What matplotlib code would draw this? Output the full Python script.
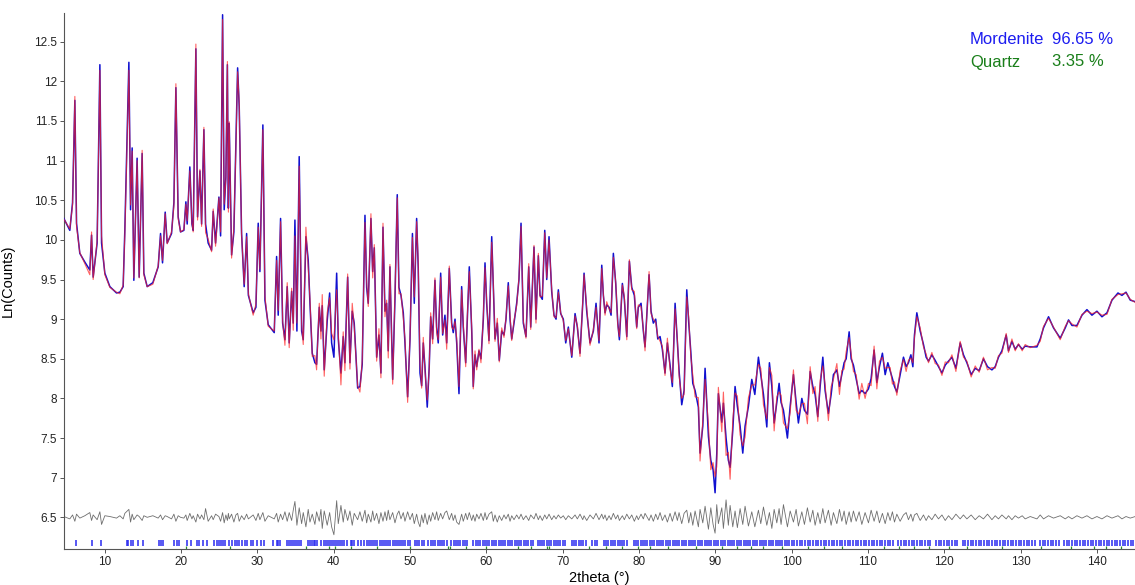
import numpy as np
import matplotlib
matplotlib.use("Agg")
from matplotlib import pyplot as plt

two_theta = [
    4.63, 5.41, 5.77, 6.07, 6.29, 6.72, 7.38, 8.03, 8.26, 8.47,
    8.99, 9.35, 9.57, 10.00, 10.66, 11.53, 11.97, 12.40, 12.62, 13.15,
    13.37, 13.58, 13.80, 14.23, 14.50, 14.89, 15.11, 15.55, 16.29, 16.99,
    17.30, 17.56, 17.91, 18.17, 18.74, 19.05, 19.31, 19.61, 19.92, 20.36,
    20.62, 20.79, 21.14, 21.41, 21.58, 21.93, 22.15, 22.46, 22.68, 22.98,
    23.20, 23.54, 23.99, 24.20, 24.51, 24.95, 25.17, 25.43, 25.64, 25.86,
    26.06, 26.19, 26.30, 26.61, 26.91, 27.17, 27.40, 27.61, 27.92, 28.26,
    28.58, 28.81, 29.44, 29.80, 30.10, 30.32, 30.71, 30.98, 31.41, 32.20,
    32.51, 32.72, 33.03, 33.30, 33.60, 33.90, 34.16, 34.48, 34.69, 34.91,
    35.17, 35.47, 35.79, 36.00, 36.35, 36.65, 36.88, 37.18, 37.53, 37.75,
    38.10, 38.32, 38.49, 38.75, 39.14, 39.46, 39.72, 40.02, 40.38, 40.59,
    40.94, 41.24, 41.46, 41.82, 42.12, 42.42, 42.68, 43.13, 43.43, 43.73,
    44.09, 44.31, 44.52, 44.87, 45.10, 45.31, 45.62, 45.92, 46.18, 46.45,
    46.71, 46.93, 47.14, 47.36, 47.72, 48.02, 48.32, 48.54, 48.81, 49.11,
    49.33, 49.68, 49.99, 50.31, 50.55, 50.86, 51.07, 51.30, 51.52, 51.73,
    51.95, 52.25, 52.51, 52.70, 52.96, 53.26, 53.48, 53.69, 54.01, 54.27,
    54.57, 54.80, 55.14, 55.45, 55.66, 55.89, 56.11, 56.41, 56.76, 56.97,
    57.29, 57.50, 57.76, 58.08, 58.28, 58.51, 58.73, 59.03, 59.29, 59.60,
    59.82, 60.04, 60.34, 60.70, 60.91, 61.13, 61.43, 61.69, 62.01, 62.31,
    62.57, 62.87, 63.10, 63.32, 63.62, 63.97, 64.27, 64.54, 64.84, 65.19,
    65.55, 65.81, 66.24, 66.50, 66.81, 67.03, 67.33, 67.65, 67.91, 68.21,
    68.56, 68.86, 69.13, 69.43, 69.74, 70.08, 70.40, 70.74, 71.19, 71.62,
    71.92, 72.27, 72.63, 72.80, 73.15, 73.58, 74.02, 74.37, 74.76, 75.12,
    75.33, 75.55, 75.77, 76.08, 76.34, 76.64, 76.95, 77.22, 77.43, 77.82,
    78.08, 78.40, 78.74, 79.05, 79.39, 79.70, 79.91, 80.27, 80.57, 80.79,
    81.32, 81.58, 81.88, 82.19, 82.46, 82.76, 83.06, 83.41, 83.72, 84.07,
    84.37, 84.73, 85.03, 85.25, 85.60, 85.91, 86.26, 86.52, 86.78, 87.05,
    87.35, 87.78, 88.00, 88.36, 88.66, 89.10, 89.41, 89.71, 89.97, 90.19,
    90.40, 90.85, 91.06, 91.41, 91.71, 91.94, 92.29, 92.59, 92.89, 93.25,
    93.60, 93.90, 94.34, 94.78, 95.18, 95.65, 95.96, 96.31, 96.75, 97.09,
    97.41, 97.71, 98.06, 98.36, 98.62, 98.93, 99.45, 99.81, 100.24, 100.59,
    100.89, 101.34, 101.68, 102.07, 102.43, 102.78, 103.08, 103.43, 103.74, 104.09,
    104.39, 104.82, 105.18, 105.48, 105.93, 106.27, 106.58, 106.88, 107.15, 107.54,
    107.80, 108.10, 108.46, 108.85, 109.20, 109.63, 110.07, 110.42, 110.81, 111.17,
    111.51, 111.90, 112.26, 112.61, 112.91, 113.21, 113.48, 113.79, 114.22, 114.66,
    115.01, 115.31, 115.63, 115.89, 116.10, 116.41, 116.85, 117.28, 117.63, 117.94,
    118.38, 118.81, 119.25, 119.70, 120.13, 120.56, 121.01, 121.53, 122.09, 122.52,
    122.97, 123.53, 124.06, 124.58, 125.14, 125.67, 126.25, 126.68, 127.11, 127.56,
    128.12, 128.42, 128.87, 129.30, 129.73, 130.22, 130.61, 131.27, 132.15, 132.58,
    133.01, 133.67, 134.32, 135.20, 135.86, 136.29, 136.74, 137.39, 138.05, 138.70,
    139.36, 140.01, 140.67, 141.33, 141.98, 142.77, 143.29, 143.82, 144.38, 145.03,
]

ln_obs = [
    10.27, 10.12, 10.47, 11.76, 10.21, 9.83, 9.72, 9.62, 10.06, 9.53,
    9.96, 12.21, 9.96, 9.58, 9.41, 9.33, 9.34, 9.41, 10.12, 12.24,
    10.38, 11.16, 9.49, 11.03, 9.53, 11.09, 9.58, 9.41, 9.46, 9.66,
    10.08, 9.71, 10.35, 9.96, 10.08, 10.47, 11.92, 10.29, 10.10, 10.12,
    10.48, 10.20, 10.92, 10.20, 10.12, 12.41, 10.29, 10.87, 10.20, 11.39,
    10.20, 9.96, 9.87, 10.36, 9.96, 10.54, 10.05, 12.84, 10.38, 10.79,
    12.21, 10.40, 11.47, 9.81, 10.10, 11.17, 12.17, 11.68, 10.08, 9.41,
    10.08, 9.30, 9.08, 9.15, 10.21, 9.60, 11.45, 9.24, 8.93, 8.83,
    9.79, 9.05, 10.27, 8.95, 8.74, 9.41, 8.70, 9.35, 8.95, 10.25,
    8.85, 11.05, 8.85, 8.74, 10.04, 9.75, 9.20, 8.57, 8.45, 8.43,
    9.15, 8.85, 9.17, 8.36, 8.98, 9.33, 8.70, 8.52, 9.58, 8.75,
    8.32, 8.78, 8.45, 9.53, 8.45, 9.10, 8.95, 8.13, 8.15, 8.43,
    10.31, 9.40, 9.20, 10.27, 9.60, 9.90, 8.52, 8.80, 8.32, 10.16,
    9.10, 9.20, 8.60, 9.66, 8.24, 9.25, 10.57, 9.40, 9.30, 9.08,
    8.70, 8.02, 8.74, 10.08, 9.20, 10.27, 9.65, 8.32, 8.16, 8.70,
    8.40, 7.89, 8.40, 9.03, 8.75, 9.49, 8.90, 8.70, 9.58, 8.80,
    9.05, 8.70, 9.64, 8.95, 8.83, 9.00, 8.70, 8.06, 9.41, 8.90,
    8.45, 9.00, 9.66, 8.85, 8.15, 8.55, 8.40, 8.60, 8.50, 9.00,
    9.71, 9.20, 8.73, 10.04, 9.40, 8.75, 8.95, 8.48, 8.85, 8.80,
    9.00, 9.46, 9.00, 8.75, 8.95, 9.20, 9.50, 10.21, 8.95, 8.78,
    9.66, 8.90, 9.91, 9.00, 9.80, 9.30, 9.25, 10.12, 9.50, 10.04,
    9.35, 9.05, 9.00, 9.37, 9.07, 9.00, 8.70, 8.90, 8.52, 9.07,
    8.90, 8.57, 9.20, 9.58, 9.10, 8.70, 8.85, 9.20, 8.70, 9.68,
    9.30, 9.08, 9.18, 9.15, 9.05, 9.83, 9.45, 8.95, 8.74, 9.45,
    9.25, 8.78, 9.73, 9.40, 9.30, 8.90, 9.15, 9.20, 8.85, 8.65,
    9.56, 9.10, 8.95, 9.00, 8.75, 8.78, 8.62, 8.32, 8.70, 8.42,
    8.15, 9.20, 8.70, 8.35, 7.92, 8.10, 9.37, 8.95, 8.60, 8.19,
    8.10, 7.89, 7.31, 7.65, 8.38, 7.52, 7.22, 7.10, 6.81, 7.30,
    8.06, 7.70, 7.94, 7.50, 7.22, 7.13, 7.60, 8.15, 7.90, 7.65,
    7.31, 7.65, 7.90, 8.24, 8.05, 8.52, 8.30, 8.05, 7.64, 8.45,
    8.15, 7.69, 7.95, 8.19, 7.95, 7.85, 7.50, 7.90, 8.30, 7.95,
    7.69, 8.00, 7.85, 7.80, 8.34, 8.15, 8.05, 7.77, 8.15, 8.52,
    8.10, 7.81, 8.05, 8.30, 8.36, 8.15, 8.30, 8.45, 8.50, 8.84,
    8.50, 8.42, 8.25, 8.06, 8.10, 8.06, 8.12, 8.25, 8.61, 8.20,
    8.40, 8.57, 8.30, 8.45, 8.35, 8.25, 8.15, 8.08, 8.30, 8.52,
    8.40, 8.45, 8.55, 8.40, 8.80, 9.08, 8.85, 8.68, 8.52, 8.47,
    8.55, 8.48, 8.40, 8.32, 8.42, 8.47, 8.52, 8.38, 8.70, 8.55,
    8.45, 8.30, 8.38, 8.35, 8.50, 8.40, 8.36, 8.40, 8.52, 8.60,
    8.80, 8.60, 8.72, 8.62, 8.68, 8.62, 8.66, 8.65, 8.65, 8.75,
    8.89, 9.03, 8.89, 8.76, 8.89, 8.99, 8.92, 8.92, 9.05, 9.12,
    9.05, 9.10, 9.03, 9.08, 9.24, 9.33, 9.30, 9.34, 9.24, 9.22,
]

resid = [
    0.01, -0.02, 0.03, -0.05, 0.04, -0.01, 0.02, 0.06, -0.04, 0.03,
    -0.03, 0.07, -0.09, 0.02, 0.01, -0.01, 0.02, -0.02, 0.05, 0.10,
    -0.06, 0.04, -0.03, 0.03, 0.01, -0.04, 0.02, 0.00, 0.02, -0.01,
    0.03, -0.03, 0.02, 0.01, -0.02, 0.04, -0.05, 0.02, 0.00, -0.01,
    0.03, -0.04, 0.05, -0.02, 0.02, -0.06, 0.04, -0.02, 0.03, -0.03,
    0.11, -0.05, 0.02, -0.03, 0.04, 0.01, -0.05, 0.06, -0.07, 0.03,
    -0.04, 0.05, -0.02, 0.04, -0.06, 0.03, 0.05, -0.05, 0.02, -0.03,
    0.04, -0.02, 0.03, -0.04, 0.05, -0.03, 0.06, -0.05, 0.02, -0.02,
    0.05, -0.06, 0.04, -0.03, 0.07, -0.05, 0.06, -0.04, 0.09, 0.20,
    -0.10, 0.12, -0.08, 0.06, -0.12, 0.10, -0.06, 0.04, -0.09, 0.07,
    -0.05, 0.10, -0.14, 0.08, -0.10, 0.06, -0.12, -0.22, 0.21, -0.08,
    0.15, -0.06, 0.10, -0.04, 0.08, -0.10, 0.05, -0.03, 0.07, -0.05,
    0.09, -0.07, 0.04, -0.06, 0.08, -0.04, 0.05, -0.08, 0.06, -0.05,
    0.07, -0.04, 0.09, -0.03, 0.06, -0.07, 0.04, 0.08, -0.02, 0.06,
    -0.05, 0.07, -0.03, 0.05, -0.08, 0.04, -0.06, -0.12, 0.03, -0.07,
    0.05, -0.09, 0.03, -0.05, 0.06, -0.03, 0.07, -0.04, 0.05, -0.02,
    0.06, 0.08, -0.03, 0.05, -0.04, 0.03, -0.06, -0.09, 0.04, -0.05,
    0.05, -0.03, 0.06, -0.04, 0.03, -0.05, 0.04, -0.02, 0.05, -0.04,
    0.06, -0.03, 0.04, 0.07, -0.05, 0.03, -0.06, 0.02, -0.04, 0.03,
    -0.02, 0.04, -0.05, 0.02, -0.03, 0.03, -0.02, 0.04, -0.03, 0.02,
    -0.04, 0.03, -0.02, 0.05, -0.03, 0.02, -0.04, 0.03, -0.02, 0.04,
    -0.03, 0.02, -0.02, 0.03, -0.01, 0.02, -0.03, 0.02, -0.02, 0.03,
    -0.02, 0.04, -0.03, 0.02, -0.04, 0.03, -0.02, 0.05, -0.03, 0.04,
    -0.02, 0.03, -0.04, 0.02, -0.03, 0.05, -0.02, 0.03, -0.04, 0.02,
    -0.03, 0.04, -0.02, 0.03, -0.05, 0.02, -0.03, 0.04, -0.02, 0.05,
    -0.04, 0.03, -0.05, 0.04, -0.03, 0.06, -0.04, 0.03, -0.06, 0.05,
    -0.05, 0.07, -0.04, 0.06, -0.08, 0.05, 0.09, -0.07, 0.06, -0.10,
    0.08, -0.12, 0.10, -0.07, 0.14, -0.15, 0.12, -0.09, -0.20, 0.16,
    -0.08, 0.12, -0.14, 0.22, -0.10, 0.15, -0.12, 0.08, -0.13, 0.11,
    -0.09, 0.14, -0.11, 0.07, -0.12, 0.09, -0.08, 0.13, -0.10, 0.06,
    -0.14, 0.10, -0.07, 0.11, -0.09, 0.16, -0.12, 0.08, -0.06, 0.10,
    -0.11, 0.07, -0.09, 0.12, -0.06, 0.09, -0.10, 0.06, -0.08, 0.11,
    -0.07, 0.09, -0.10, 0.06, -0.08, 0.10, -0.05, 0.08, -0.09, 0.07,
    -0.06, 0.08, -0.05, 0.07, -0.09, 0.06, -0.07, 0.09, -0.05, 0.08,
    -0.07, 0.05, -0.08, 0.06, -0.04, 0.07, -0.06, 0.04, -0.05, 0.03,
    0.06, -0.03, 0.04, -0.05, 0.03, 0.05, -0.04, 0.03, -0.04, 0.02,
    -0.03, 0.04, -0.02, 0.03, -0.04, 0.02, -0.03, 0.04, -0.02, 0.03,
    -0.02, 0.03, -0.03, 0.02, -0.02, 0.04, -0.03, 0.02, -0.02, 0.03,
    -0.02, 0.02, -0.03, 0.02, -0.01, 0.02, -0.02, 0.01, -0.02, 0.03,
    -0.02, 0.02, -0.01, 0.02, -0.02, 0.01, -0.02, 0.02, -0.01, 0.02,
    -0.02, 0.01, -0.02, 0.02, -0.01, 0.02, -0.02, 0.01, -0.01, 0.01,
]

# reflection positions (tick rows under the pattern)
mordenite_pos = [
    6.20, 8.34, 9.44, 12.84, 13.10, 13.37, 13.63, 14.37, 15.02, 17.12,
    17.38, 17.65, 19.09, 19.40, 19.66, 20.79, 21.23, 22.02, 22.36, 22.89,
    23.41, 24.33, 24.64, 24.90, 25.17, 25.43, 25.73, 26.30, 26.69, 27.04,
    27.35, 27.61, 27.92, 28.35, 28.66, 29.10, 29.44, 29.89, 30.41, 30.84,
    31.98, 32.51, 32.72, 32.94, 33.82, 34.10, 34.40, 34.70, 34.95, 35.20,
    35.45, 35.70, 36.60, 36.85, 37.10, 37.35, 37.60, 37.85, 38.30, 38.70,
    39.00, 39.30, 39.55, 39.80, 40.05, 40.30, 40.55, 40.80, 41.05, 41.30,
    41.75, 42.20, 42.45, 42.70, 43.20, 43.60, 44.00, 44.30, 44.60, 44.85,
    45.10, 45.40, 45.70, 46.00, 46.30, 46.60, 46.85, 47.10, 47.40, 47.70,
    48.00, 48.30, 48.55, 48.80, 49.10, 49.40, 49.70, 50.00, 50.60, 50.90,
    51.20, 51.50, 51.80, 52.40, 52.70, 53.00, 53.30, 53.60, 53.90, 54.20,
    54.50, 54.80, 55.40, 55.70, 56.00, 56.30, 56.60, 56.90, 57.20, 57.50,
    58.30, 58.60, 58.90, 59.20, 59.50, 59.80, 60.10, 60.40, 60.70, 61.00,
    61.30, 61.60, 61.90, 62.20, 62.50, 62.80, 63.10, 63.40, 63.70, 64.00,
    64.30, 64.60, 64.90, 65.20, 65.50, 65.80, 66.10, 66.70, 67.00, 67.30,
    67.60, 67.90, 68.20, 68.50, 68.80, 69.10, 69.40, 69.70, 70.00, 70.30,
    71.20, 71.50, 71.80, 72.10, 72.40, 72.70, 73.00, 73.90, 74.20, 74.50,
    75.40, 75.70, 76.00, 76.30, 76.60, 76.90, 77.20, 77.50, 77.80, 78.10,
    78.40, 79.30, 79.60, 79.90, 80.20, 80.50, 80.80, 81.10, 81.40, 81.70,
    82.00, 82.30, 82.60, 82.90, 83.20, 83.50, 83.80, 84.10, 84.40, 84.70,
    85.00, 85.30, 85.60, 85.90, 86.20, 86.50, 86.80, 87.10, 87.40, 87.70,
    88.00, 88.30, 88.60, 88.90, 89.20, 89.50, 89.80, 90.10, 90.40, 90.70,
    91.00, 91.30, 91.60, 91.90, 92.20, 92.50, 92.80, 93.10, 93.40, 93.70,
    94.00, 94.30, 94.60, 94.90, 95.20, 95.50, 95.80, 96.10, 96.40, 96.70,
    97.00, 97.30, 97.60, 97.90, 98.20, 98.50, 98.80, 99.10, 99.40, 99.70,
    100.00, 100.35, 100.70, 101.05, 101.40, 101.75, 102.10, 102.45, 102.80, 103.15,
    103.50, 103.85, 104.20, 104.55, 104.90, 105.25, 105.60, 105.95, 106.30, 106.65,
    107.00, 107.35, 107.70, 108.05, 108.40, 108.75, 109.10, 109.45, 109.80, 110.15,
    110.50, 110.85, 111.20, 111.55, 111.90, 112.25, 112.60, 112.95, 113.30, 114.00,
    114.35, 114.70, 115.05, 115.40, 115.75, 116.10, 116.45, 116.80, 117.15, 117.50,
    117.85, 118.20, 118.90, 119.25, 119.60, 119.95, 120.30, 120.65, 121.00, 121.35,
    121.70, 122.40, 122.75, 123.10, 123.45, 123.80, 124.15, 124.50, 124.85, 125.20,
    125.55, 125.90, 126.25, 126.60, 126.95, 127.30, 127.65, 128.00, 128.35, 128.70,
    129.05, 129.40, 129.75, 130.10, 130.45, 130.80, 131.15, 131.50, 131.85, 132.55,
    132.90, 133.25, 133.60, 133.95, 134.30, 134.65, 135.00, 135.70, 136.05, 136.40,
    136.75, 137.10, 137.45, 137.80, 138.15, 138.50, 138.85, 139.20, 139.55, 139.90,
    140.25, 140.60, 140.95, 141.30, 141.65, 142.00, 142.35, 142.70, 143.05, 143.40,
    143.75, 144.10, 144.45, 144.80,
]

quartz_pos = [
    20.70, 26.39, 36.35, 39.40, 40.20, 42.25, 45.70, 49.99, 54.97, 55.20,
    57.33, 59.95, 64.10, 65.79, 67.90, 68.20, 73.49, 75.68, 77.73, 79.88,
    81.49, 83.84, 87.43, 90.83, 92.80, 94.64, 96.23, 98.72, 102.20, 104.20,
    106.60, 112.10, 114.10, 116.00, 118.00, 120.60, 123.00, 127.60, 132.70, 136.60,
    139.60, 141.20, 143.20,
]

phase_names = ["Mordenite", "Quartz"]
phase_wt = ["96.65 %", "3.35 %"]
phase_colors = ["#1c1cf0", "#1a7f1a"]

ln_calc = np.array(ln_obs) - np.array(resid)
diff_line = 6.5 + np.array(resid)

fig = plt.figure(figsize=(11.35, 5.85), dpi=100)
ax = fig.add_axes([0.0564, 0.0615, 0.9436, 0.916])

ax.plot(two_theta, ln_obs, color="#1010d0", lw=1.1, zorder=3)
ax.plot(two_theta, ln_calc, color="#ff2020", lw=0.8, alpha=0.7, zorder=4)
ax.plot(two_theta, diff_line, color="#6e6e6e", lw=0.6, zorder=2)

ax.vlines(mordenite_pos, 6.135, 6.22, color="#2a2af0", lw=1.1)
ax.vlines(quartz_pos, 6.10, 6.135, color="#2a8a2a", lw=0.9)

ax.set_xlim(4.65, 145.0)
ax.set_ylim(6.10, 12.86)
ax.set_xticks([10, 20, 30, 40, 50, 60, 70, 80, 90, 100, 110, 120, 130, 140])
ax.set_yticks([6.5, 7, 7.5, 8, 8.5, 9, 9.5, 10, 10.5, 11, 11.5, 12, 12.5])
ax.set_yticklabels(["6.5", "7", "7.5", "8", "8.5", "9", "9.5", "10", "10.5",
                    "11", "11.5", "12", "12.5"])

for s in ["top", "right"]:
    ax.spines[s].set_visible(False)
for s in ["left", "bottom"]:
    ax.spines[s].set_color("#555555")
    ax.spines[s].set_linewidth(0.8)
ax.tick_params(length=3, width=0.7, color="#555555", labelsize=8.5,
               labelcolor="#222222", pad=2)
for lab in ax.get_xticklabels() + ax.get_yticklabels():
    lab.set_family("Liberation Sans")

ax.set_xlabel("2theta (°)", family="Liberation Sans", fontsize=10.5, labelpad=2)
ax.set_ylabel("Ln(Counts)", family="Liberation Sans", fontsize=10.5, labelpad=14)

# phase fractions, upper right
for i in range(len(phase_names)):
    y = 1 - (39 + 23 * i) / 585
    fig.text(970 / 1135, y, phase_names[i], color=phase_colors[i],
             fontsize=12, family="Liberation Sans", va="center")
    fig.text(1052 / 1135, y, phase_wt[i], color=phase_colors[i],
             fontsize=12, family="Liberation Sans", va="center")

fig.savefig("out.png", dpi=100)
